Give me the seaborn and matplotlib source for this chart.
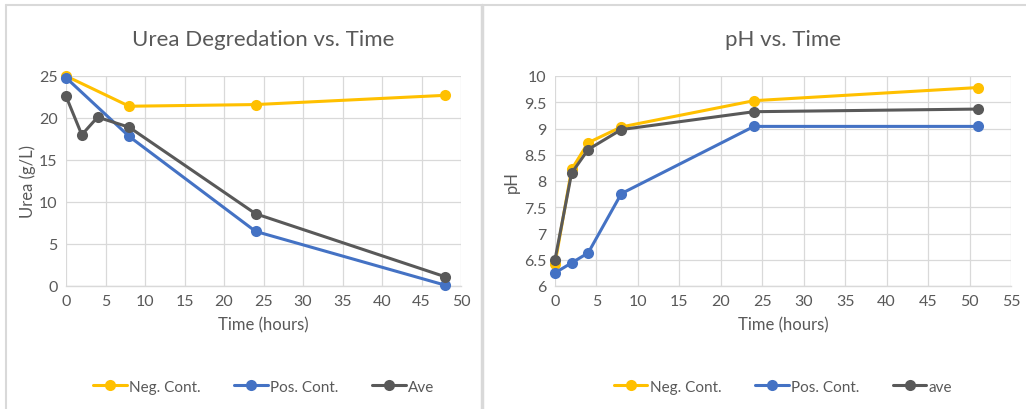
import matplotlib
matplotlib.use("Agg")
import matplotlib.pyplot as plt
import seaborn as sns
import pandas as pd
from matplotlib.lines import Line2D

sns.set_theme(style="white")
plt.rcParams['font.family'] = ['Lato', 'DejaVu Sans']

# ---- Data: Urea degradation ----
urea_neg_t = [0, 8, 24, 48]
urea_neg = [25.0, 21.4, 21.6, 22.7]
urea_pos_t = [0, 8, 24, 48]
urea_pos = [24.8, 17.8, 6.5, 0.1]
urea_ave_t = [0, 2, 4, 8, 24, 48]
urea_ave = [22.6, 18.0, 20.1, 18.9, 8.6, 1.1]

# ---- Data: pH ----
ph_t = [0, 2, 4, 8, 24, 51]
ph_neg = [6.42, 8.22, 8.73, 9.03, 9.53, 9.78]
ph_pos = [6.25, 6.44, 6.63, 7.76, 9.04, 9.04]
ph_ave = [6.50, 8.15, 8.60, 8.98, 9.32, 9.37]

urea_labels = ["Neg. Cont.", "Pos. Cont.", "Ave"]
ph_labels = ["Neg. Cont.", "Pos. Cont.", "ave"]

colors = ["#FFC000", "#4472C4", "#595959"]
TXT = "#595959"
GRID = "#D9D9D9"

def long_df(series):
    rows = []
    for name, ts, vs in series:
        for t, v in zip(ts, vs):
            rows.append({"series": name, "t": t, "v": v})
    return pd.DataFrame(rows)

urea_df = long_df([(urea_labels[0], urea_neg_t, urea_neg),
                   (urea_labels[1], urea_pos_t, urea_pos),
                   (urea_labels[2], urea_ave_t, urea_ave)])
ph_df = long_df([(ph_labels[0], ph_t, ph_neg),
                 (ph_labels[1], ph_t, ph_pos),
                 (ph_labels[2], ph_t, ph_ave)])

fig = plt.figure(figsize=(10.26, 4.10), dpi=100)
ax1 = fig.add_axes([66/1026, 1-287/410, (461-66)/1026, (287-77)/410])
ax2 = fig.add_axes([555/1026, 1-287/410, (1011-555)/1026, (287-77)/410])

def draw(ax, df, labels, xlim, xticks, ylim, yticks, yfmt, title, ylabel, lpad):
    for lab, col in zip(labels, colors):
        sub = df[df["series"] == lab]
        sns.lineplot(data=sub, x="t", y="v", ax=ax, color=col, marker="o",
                     markersize=8, linewidth=2.2, markeredgewidth=0,
                     estimator=None, sort=False, legend=False, zorder=3,
                     clip_on=False)
    ax.set_xlim(*xlim)
    ax.set_ylim(*ylim)
    ax.set_xticks(xticks)
    ax.set_yticks(yticks)
    ax.set_yticklabels([yfmt(v) for v in yticks])
    ax.grid(True, color=GRID, linewidth=0.9)
    ax.set_axisbelow(True)
    for s in ["top", "right", "left"]:
        ax.spines[s].set_visible(False)
    ax.spines["bottom"].set_color(GRID)
    ax.spines["bottom"].set_linewidth(1.0)
    ax.tick_params(axis="both", colors=TXT, labelsize=11.5, length=0, pad=6)
    ax.set_xlabel("Time (hours)", color=TXT, fontsize=12, labelpad=6)
    ax.set_ylabel(ylabel, color=TXT, fontsize=12, labelpad=lpad)
    ax.set_title(title, color=TXT, fontsize=16, pad=22)
    handles = [Line2D([0], [0], color=c, marker="o", markersize=8, linewidth=2.2,
                      markeredgewidth=0) for c in colors]
    leg = ax.legend(handles, labels, loc="upper center", bbox_to_anchor=(0.5, -0.38),
                    ncol=3, frameon=False, fontsize=11, handlelength=2.2,
                    handletextpad=0.15, columnspacing=2.2)
    for t in leg.get_texts():
        t.set_color(TXT)

draw(ax1, urea_df, urea_labels, (0, 50), range(0, 51, 5), (0, 25),
     list(range(0, 26, 5)), lambda v: f"{v:g}", "Urea Degredation vs. Time", "Urea (g/L)", 2)
draw(ax2, ph_df, ph_labels, (0, 55), range(0, 56, 5), (6, 10),
     [6 + 0.5 * i for i in range(9)], lambda v: f"{v:g}", "pH vs. Time", "pH", 3)

# panel borders
border = "#D9D9D9"
fig.add_artist(Line2D([6/1026, 1.0], [1-6/410, 1-6/410], color=border, linewidth=1.5,
                      transform=fig.transFigure))
fig.add_artist(Line2D([6/1026, 6/1026], [0, 1-6/410], color=border, linewidth=1.5,
                      transform=fig.transFigure))
fig.add_artist(Line2D([482/1026, 482/1026], [0, 1-6/410], color=border, linewidth=2.5,
                      transform=fig.transFigure))

fig.savefig("out.png", dpi=100, facecolor="white")
